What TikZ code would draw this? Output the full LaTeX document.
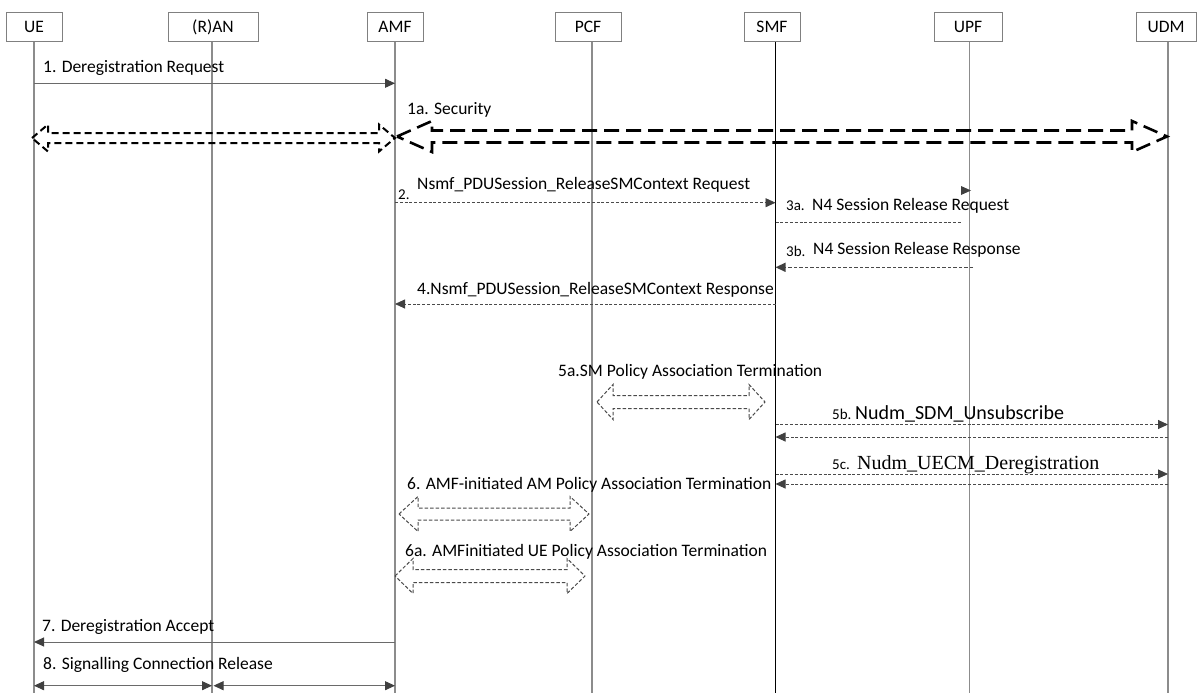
\documentclass[tikz,border=0pt]{standalone}
\usepackage{fontspec}
\setmainfont{Carlito}
\newfontfamily\timesfam{Liberation Serif}
\usetikzlibrary{arrows.meta,calc}
\definecolor{boxgray}{HTML}{808080}
\definecolor{lifegray}{HTML}{8C8C8C}
\definecolor{msggray}{HTML}{6A6A6A}
\definecolor{tipgray}{HTML}{404040}
\definecolor{dashgray}{HTML}{4A4A4A}
\newcommand\DblArr[7][]{%
  \draw[#1] (#2,#4) -- ({#2+#7},{#4-#5}) -- ({#2+#7},{#4-#6}) -- ({#3-#7},{#4-#6})
  -- ({#3-#7},{#4-#5}) -- (#3,#4) -- ({#3-#7},{#4+#5}) -- ({#3-#7},{#4+#6})
  -- ({#2+#7},{#4+#6}) -- ({#2+#7},{#4+#5}) -- cycle;}
\begin{document}
\begin{tikzpicture}[x=1pt,y=-1pt,
  lane/.style={draw=boxgray, line width=0.9pt, fill=white, minimum height=29.5pt,
    inner sep=0pt, font=\fontsize{17.5}{20}\selectfont},
  life/.style={draw=lifegray, line width=1.1pt},
  lifebold/.style={draw=black, line width=1.8pt},
  msg/.style={draw=msggray, line width=1pt},
  dmsg/.style={draw=dashgray, line width=0.9pt, dash pattern=on 3pt off 1.8pt},
  dmsgb/.style={draw=dashgray, line width=1.4pt, dash pattern=on 3.5pt off 2pt},
  tip/.style={-{Triangle[length=10pt,width=9pt,color=tipgray]}},
  tips/.style={{Triangle[length=10pt,width=9pt,color=tipgray]}-{Triangle[length=10pt,width=9pt,color=tipgray]}},
  lbl/.style={anchor=base west, inner sep=0pt, font=\fontsize{17.5}{20}\selectfont},
  sml/.style={anchor=base west, inner sep=0pt, font=\fontsize{15}{17}\selectfont},
  big/.style={anchor=base west, inner sep=0pt, font=\fontsize{20}{24}\selectfont},
  blkthick/.style={draw=black, line width=2.6pt, dash pattern=on 15pt off 7pt},
  blkmed/.style={draw=black, line width=2pt, dash pattern=on 7pt off 4pt},
  blkthin/.style={draw=dashgray, line width=1pt, dash pattern=on 3.5pt off 2pt, fill=white},
]
\useasboundingbox (0,0) rectangle (1197,693);
% participants
\node[lane, minimum width=56pt] (ue)  at (34,27)    {UE};
\node[lane, minimum width=90pt] (ran) at (213,27)   {(R)AN};
\node[lane, minimum width=56pt] (amf) at (395,27)   {AMF};
\node[lane, minimum width=66pt] (pcf) at (588,27)   {PCF};
\node[lane, minimum width=56pt] (smf) at (772,27)   {SMF};
\node[lane, minimum width=68pt] (upf) at (968,27)   {UPF};
\node[lane, minimum width=60pt] (udm) at (1166,27)  {UDM};
% lifeline coordinates
\coordinate (ueT) at (34,42);    \coordinate (ueB) at (34,693);
\coordinate (ranT) at (212,42);  \coordinate (ranB) at (212,693);
\coordinate (amfT) at (395,42);  \coordinate (amfB) at (395,693);
\coordinate (pcfT) at (592,42);  \coordinate (pcfB) at (592,693);
\coordinate (smfT) at (775.5,42);  \coordinate (smfB) at (775.5,693);
\coordinate (upfT) at (969.5,42);  \coordinate (upfB) at (969.5,693);
\coordinate (udmT) at (1168,42); \coordinate (udmB) at (1168,693);
\draw[life] (ueT) -- (ueB);
\draw[life] (ranT) -- (ranB);
\draw[life] (amfT) -- (amfB);
\draw[life] (pcfT) -- (pcfB);
\draw[life] (upfT) -- (upfB);
\draw[life] (udmT) -- (udmB);
\draw[lifebold] (smfT) -- (smfB);
% 1
\node[lbl] (t1) at (43,73) {1. Deregistration Request};
\draw[msg,tip] (ueT |- 0,83.3) -- (amfT |- 0,83.3);
% 1a
\node[lbl] (t1a) at (407,114) {1a. Security};
\DblArr[blkmed]{32}{395}{138}{13.5}{5}{16}
\DblArr[blkthick]{397}{1167}{136.5}{15.5}{6}{35}
% 2
\node[sml] (t2n) at (398,199.5) {2.};
\node[lbl] (t2) at (417,189.5) {Nsmf\_PDUSession\_ReleaseSMContext Request};
\draw[dmsg,tip] (amfT |- 0,202.7) -- (smfT |- 0,202.7);
% 3a
\node[sml] (t3an) at (786,210) {3a.};
\node[lbl] (t3a) at (812,210.5) {N4 Session Release Request};
\coordinate (s3a) at (962,222.7);
\draw[dmsg] (smfT |- 0,222.7) -- (s3a);
\fill[tipgray] (961,186) -- (971,190.5) -- (961,195) -- cycle;
% 3b
\node[sml] (t3bn) at (786,256.5) {3b.};
\node[lbl] (t3b) at (813,254.5) {N4 Session Release Response};
\coordinate (s3b) at (973,267.3);
\draw[dmsgb,tip] (s3b) -- (smfT |- 0,267.3);
% 4
\node[lbl] (t4) at (417,294.5) {4.Nsmf\_PDUSession\_ReleaseSMContext Response};
\draw[dmsg,tip] (smfT |- 0,304) -- (amfT |- 0,304);
% 5a
\node[lbl] (t5a) at (558,376.5) {5a.SM Policy Association Termination};
\DblArr[blkthin]{597}{765}{402}{17.5}{6.5}{16}
% 5b
\node[sml] (t5bn) at (832,419.5) {5b.};
\node[big] (t5b) at (855,419.5) {Nudm\_SDM\_Unsubscribe};
\draw[dmsg,tip] (smfT |- 0,424.5) -- (udmT |- 0,424.5);
\draw[dmsg,tip] (udmT |- 0,437) -- (smfT |- 0,437);
% 5c
\node[sml] (t5cn) at (832,469.5) {5c.};
\node[big,font=\timesfam\fontsize{20}{24}\selectfont] (t5c) at (857,469.5) {Nudm\_UECM\_Deregistration};
\draw[dmsg,tip] (smfT |- 0,474) -- (udmT |- 0,474);
\draw[dmsg,tip] (udmT |- 0,484) -- (smfT |- 0,484);
% 6
\node[lbl] (t6) at (407,489.5) {6. AMF-initiated AM Policy Association Termination};
\DblArr[blkthin]{399}{589}{514}{17.5}{6}{19}
% 6a
\node[lbl] (t6a) at (405,556.5) {6a. AMFinitiated UE Policy Association Termination};
\DblArr[blkthin]{395}{585}{576}{17.5}{6.5}{18}
% 7
\node[lbl] (t7) at (42,631.5) {7. Deregistration Accept};
\draw[msg,tip] (amfT |- 0,642) -- (ueT |- 0,642);
% 8
\node[lbl] (t8) at (43,669.5) {8. Signalling Connection Release};
\draw[msg,tips] (ueT |- 0,685.7) -- (ranT |- 0,685.7);
\draw[msg,tips] ($(ranT |- 0,685.7)+(1.5,0)$) -- (amfT |- 0,685.7);
\end{tikzpicture}
\end{document}
